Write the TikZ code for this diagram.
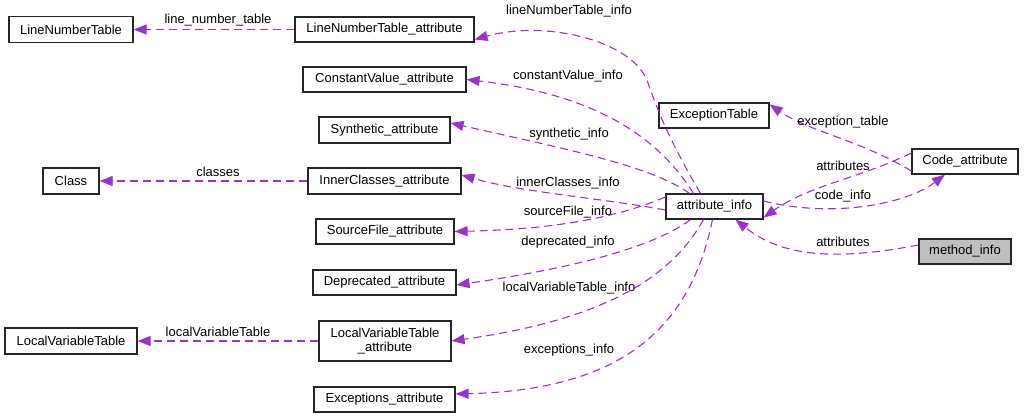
\documentclass[tikz,border=0pt]{standalone}
\usepackage{fontspec}
\setmainfont{Liberation Sans}
\usetikzlibrary{arrows.meta}
\definecolor{edgec}{HTML}{9A32CD}
\definecolor{grayfill}{HTML}{BFBFBF}
\begin{document}
\begin{tikzpicture}[x=1pt,y=-1pt,
  font=\fontsize{13}{14.5}\selectfont,
  box/.style={draw=black!85,line width=1.2pt,rectangle,inner sep=0pt,align=center,fill=white},
  rel/.style={draw=edgec,line width=1.1pt,dash pattern=on 8pt off 5pt,-{Triangle[length=13pt,width=10pt,fill=edgec]}},
  lab/.style={inner sep=0pt,anchor=center}]
\useasboundingbox (0,0) rectangle (1029,419);
% nodes
\node[box,minimum width=124pt,minimum height=26pt] (lnt) at (71,29.5) {LineNumberTable};
\node[box,minimum width=179pt,minimum height=25pt] (lnta) at (384.5,29.5) {LineNumberTable\_attribute};
\node[box,minimum width=163pt,minimum height=25pt] (cva) at (384.5,79.5) {ConstantValue\_attribute};
\node[box,minimum width=131pt,minimum height=26pt] (syn) at (384.5,130) {Synthetic\_attribute};
\node[box,minimum width=56pt,minimum height=26pt] (cls) at (71,181) {Class};
\node[box,minimum width=153pt,minimum height=26pt] (ica) at (384.5,181) {InnerClasses\_attribute};
\node[box,minimum width=138pt,minimum height=25pt] (sfa) at (385,231.5) {SourceFile\_attribute};
\node[box,minimum width=143pt,minimum height=25pt] (dep) at (384.5,282.5) {Deprecated\_attribute};
\node[box,minimum width=132pt,minimum height=26pt] (lvt) at (71,341) {LocalVariableTable};
\node[box,minimum width=132pt,minimum height=40pt] (lvta) at (385,341) {LocalVariableTable\\\_attribute};
\node[box,minimum width=141pt,minimum height=25pt] (exa) at (384.5,399.5) {Exceptions\_attribute};
\node[box,minimum width=110pt,minimum height=25pt] (ext) at (714,115.5) {ExceptionTable};
\node[box,minimum width=106pt,minimum height=25pt] (code) at (965,161.5) {Code\_attribute};
\node[box,minimum width=97pt,minimum height=25pt] (ai) at (714.5,206.5) {attribute\_info};
\node[box,fill=grayfill,minimum width=92pt,minimum height=25pt] (mi) at (965,251.5) {method\_info};
% edges
\draw[rel] (lnta.west) -- (lnt.east);
\draw[rel] (ica.west) -- (cls.east);
\draw[rel] (lvta.west) -- (lvt.east);
\draw[rel] ([xshift=-14pt]ai.north) .. controls (660,125) and (652,92) .. (646,78)
   .. controls (628,40) and (545,20) .. ([yshift=-10pt]lnta.east);
\draw[rel] ([xshift=-21pt]ai.north) .. controls (660,140) and (600,95) .. (cva.east);
\draw[rel] ([xshift=-25pt]ai.north) .. controls (650,165) and (560,148) .. ([yshift=7pt]syn.east);
\draw[rel] ([yshift=-3.5pt]ai.west) .. controls (600,198) and (520,192) .. ([yshift=6pt]ica.east);
\draw[rel] ([yshift=9.5pt]ai.west) .. controls (600,225) and (520,230) .. (sfa.east);
\draw[rel] ([xshift=-24pt]ai.south) .. controls (650,250) and (560,270) .. ([yshift=-2.5pt]dep.east);
\draw[rel] ([xshift=-11pt]ai.south) .. controls (670,280) and (600,320) .. (lvta.east);
\draw[rel] ([xshift=-2pt]ai.south) .. controls (690,330) and (620,390) .. ([yshift=5.5pt]exa.east);
\draw[rel] ([yshift=-9.5pt]code.west) .. controls (860,140) and (810,132) .. ([yshift=11pt]ext.east);
\draw[rel] ([yshift=8.5pt]code.west) .. controls (860,178) and (810,185) .. ([yshift=-11pt]ai.east);
\draw[rel] ([yshift=5.5pt]ai.east) .. controls (830,218) and (905,205) .. ([xshift=-20pt]code.south);
\draw[rel] ([yshift=6.5pt]mi.west) .. controls (830,262) and (780,255) .. ([xshift=21pt]ai.south);
% labels
\node[lab] (l1) at (218,20) {line\_number\_table};
\node[lab] (l2) at (569,11) {lineNumberTable\_info};
\node[lab] (l3) at (568,76) {constantValue\_info};
\node[lab] (l4) at (569,134) {synthetic\_info};
\node[lab] (l5) at (218,172) {classes};
\node[lab] (l6) at (568,183) {innerClasses\_info};
\node[lab] (l7) at (568,212) {sourceFile\_info};
\node[lab] (l8) at (568,242) {deprecated\_info};
\node[lab] (l9) at (569,288) {localVariableTable\_info};
\node[lab] (l10) at (569,350) {exceptions\_info};
\node[lab] (l11) at (843,122) {exception\_table};
\node[lab] (l12) at (843,166) {attributes};
\node[lab] (l13) at (843,196) {code\_info};
\node[lab] (l14) at (843,242) {attributes};
\node[lab] (l15) at (218,332) {localVariableTable};
\end{tikzpicture}
\end{document}
